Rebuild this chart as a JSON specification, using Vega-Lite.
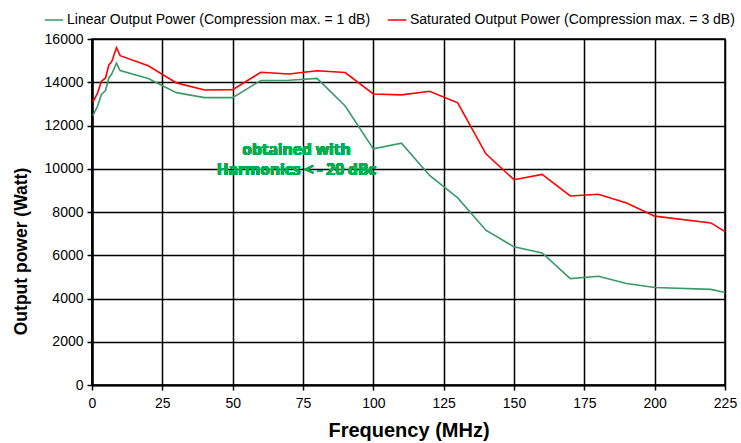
{
  "$schema": "https://vega.github.io/schema/vega-lite/v6.json",
  "autosize": "none",
  "width": 633,
  "height": 346,
  "padding": {"left": 92, "top": 39, "right": 16, "bottom": 58},
  "background": "white",
  "config": {
    "font": "Liberation Sans",
    "view": {"stroke": "#000000", "strokeWidth": 1.5}
  },
  "data": {
    "values": [
      {"series": "Linear Output Power (Compression max. =  1 dB)", "freq": 0.3, "power": 12450},
      {"series": "Linear Output Power (Compression max. =  1 dB)", "freq": 2, "power": 12900},
      {"series": "Linear Output Power (Compression max. =  1 dB)", "freq": 3.3, "power": 13420},
      {"series": "Linear Output Power (Compression max. =  1 dB)", "freq": 4.8, "power": 13620},
      {"series": "Linear Output Power (Compression max. =  1 dB)", "freq": 6, "power": 14200},
      {"series": "Linear Output Power (Compression max. =  1 dB)", "freq": 7, "power": 14380},
      {"series": "Linear Output Power (Compression max. =  1 dB)", "freq": 8.7, "power": 14880},
      {"series": "Linear Output Power (Compression max. =  1 dB)", "freq": 10, "power": 14540},
      {"series": "Linear Output Power (Compression max. =  1 dB)", "freq": 20, "power": 14170},
      {"series": "Linear Output Power (Compression max. =  1 dB)", "freq": 30, "power": 13520},
      {"series": "Linear Output Power (Compression max. =  1 dB)", "freq": 40, "power": 13290},
      {"series": "Linear Output Power (Compression max. =  1 dB)", "freq": 50, "power": 13290},
      {"series": "Linear Output Power (Compression max. =  1 dB)", "freq": 60, "power": 14080},
      {"series": "Linear Output Power (Compression max. =  1 dB)", "freq": 70, "power": 14090},
      {"series": "Linear Output Power (Compression max. =  1 dB)", "freq": 80, "power": 14180},
      {"series": "Linear Output Power (Compression max. =  1 dB)", "freq": 90, "power": 12900},
      {"series": "Linear Output Power (Compression max. =  1 dB)", "freq": 100, "power": 10920},
      {"series": "Linear Output Power (Compression max. =  1 dB)", "freq": 110, "power": 11180},
      {"series": "Linear Output Power (Compression max. =  1 dB)", "freq": 120, "power": 9690},
      {"series": "Linear Output Power (Compression max. =  1 dB)", "freq": 130, "power": 8650},
      {"series": "Linear Output Power (Compression max. =  1 dB)", "freq": 140, "power": 7160},
      {"series": "Linear Output Power (Compression max. =  1 dB)", "freq": 150, "power": 6390},
      {"series": "Linear Output Power (Compression max. =  1 dB)", "freq": 160, "power": 6110},
      {"series": "Linear Output Power (Compression max. =  1 dB)", "freq": 170, "power": 4920},
      {"series": "Linear Output Power (Compression max. =  1 dB)", "freq": 180, "power": 5030},
      {"series": "Linear Output Power (Compression max. =  1 dB)", "freq": 190, "power": 4690},
      {"series": "Linear Output Power (Compression max. =  1 dB)", "freq": 200, "power": 4510},
      {"series": "Linear Output Power (Compression max. =  1 dB)", "freq": 220, "power": 4420},
      {"series": "Linear Output Power (Compression max. =  1 dB)", "freq": 225, "power": 4280},
      {"series": "Saturated Output Power (Compression max. =  3 dB)", "freq": 0.3, "power": 13080},
      {"series": "Saturated Output Power (Compression max. =  3 dB)", "freq": 2, "power": 13510},
      {"series": "Saturated Output Power (Compression max. =  3 dB)", "freq": 3.3, "power": 14040},
      {"series": "Saturated Output Power (Compression max. =  3 dB)", "freq": 4.8, "power": 14200},
      {"series": "Saturated Output Power (Compression max. =  3 dB)", "freq": 6, "power": 14800},
      {"series": "Saturated Output Power (Compression max. =  3 dB)", "freq": 7, "power": 14950},
      {"series": "Saturated Output Power (Compression max. =  3 dB)", "freq": 8.7, "power": 15600},
      {"series": "Saturated Output Power (Compression max. =  3 dB)", "freq": 10, "power": 15230},
      {"series": "Saturated Output Power (Compression max. =  3 dB)", "freq": 20, "power": 14760},
      {"series": "Saturated Output Power (Compression max. =  3 dB)", "freq": 30, "power": 13970},
      {"series": "Saturated Output Power (Compression max. =  3 dB)", "freq": 40, "power": 13640},
      {"series": "Saturated Output Power (Compression max. =  3 dB)", "freq": 50, "power": 13660},
      {"series": "Saturated Output Power (Compression max. =  3 dB)", "freq": 60, "power": 14460},
      {"series": "Saturated Output Power (Compression max. =  3 dB)", "freq": 70, "power": 14380},
      {"series": "Saturated Output Power (Compression max. =  3 dB)", "freq": 80, "power": 14530},
      {"series": "Saturated Output Power (Compression max. =  3 dB)", "freq": 90, "power": 14450},
      {"series": "Saturated Output Power (Compression max. =  3 dB)", "freq": 100, "power": 13460},
      {"series": "Saturated Output Power (Compression max. =  3 dB)", "freq": 110, "power": 13415},
      {"series": "Saturated Output Power (Compression max. =  3 dB)", "freq": 120, "power": 13585},
      {"series": "Saturated Output Power (Compression max. =  3 dB)", "freq": 130, "power": 13046},
      {"series": "Saturated Output Power (Compression max. =  3 dB)", "freq": 140, "power": 10690},
      {"series": "Saturated Output Power (Compression max. =  3 dB)", "freq": 150, "power": 9494},
      {"series": "Saturated Output Power (Compression max. =  3 dB)", "freq": 160, "power": 9740},
      {"series": "Saturated Output Power (Compression max. =  3 dB)", "freq": 170, "power": 8740},
      {"series": "Saturated Output Power (Compression max. =  3 dB)", "freq": 180, "power": 8820},
      {"series": "Saturated Output Power (Compression max. =  3 dB)", "freq": 190, "power": 8416},
      {"series": "Saturated Output Power (Compression max. =  3 dB)", "freq": 200, "power": 7810},
      {"series": "Saturated Output Power (Compression max. =  3 dB)", "freq": 220, "power": 7494},
      {"series": "Saturated Output Power (Compression max. =  3 dB)", "freq": 225, "power": 7090}
    ]
  },
  "layer": [
    {
      "mark": {"type": "line", "strokeWidth": 1.6, "clip": true},
      "encoding": {
        "x": {
          "field": "freq", "type": "quantitative",
          "scale": {"domain": [0, 225], "nice": false, "zero": false},
          "axis": {
            "values": [0, 25, 50, 75, 100, 125, 150, 175, 200, 225],
            "title": "Frequency (MHz)",
            "titleFont": "Liberation Sans", "titleFontSize": 20, "titleFontWeight": "bold", "titleColor": "#000000",
            "titlePadding": 10,
            "labelFontSize": 14, "labelColor": "#000000", "labelPadding": 6,
            "domainColor": "#000000", "domainWidth": 2,
            "tickColor": "#000000", "tickSize": 5, "tickWidth": 1.5,
            "gridColor": "#000000", "gridWidth": 1.5, "gridOpacity": 1,
            "labelFlush": false
          }
        },
        "y": {
          "field": "power", "type": "quantitative",
          "scale": {"domain": [0, 16000], "nice": false},
          "axis": {
            "values": [0, 2000, 4000, 6000, 8000, 10000, 12000, 14000, 16000],
            "format": "d",
            "title": "Output power (Watt)",
            "titleFont": "Liberation Sans", "titleFontSize": 17.5, "titleFontWeight": "bold", "titleColor": "#000000",
            "titleX": -62, "titleY": 212,
            "labelFontSize": 14, "labelColor": "#000000", "labelPadding": 4,
            "domainColor": "#000000", "domainWidth": 2.5,
            "tickColor": "#000000", "tickSize": 5, "tickWidth": 1.5,
            "gridColor": "#000000", "gridWidth": 1.5, "gridOpacity": 1
          }
        },
        "color": {
          "field": "series", "type": "nominal",
          "scale": {
            "domain": ["Linear Output Power (Compression max. =  1 dB)", "Saturated Output Power (Compression max. =  3 dB)"],
            "range": ["#3a9a6a", "#ff0000"]
          },
          "legend": {
            "orient": "none", "legendX": -48, "legendY": -29, "direction": "horizontal",
            "title": null, "symbolType": "stroke", "symbolSize": 340, "symbolStrokeWidth": 1.5,
            "labelFontSize": 14, "labelColor": "#000000", "columnPadding": 10, "labelOffset": 3, "labelLimit": 400
          }
        }
      }
    },
    {
      "mark": {"type": "text", "font": "Open Sans", "fontSize": 15.5, "fontWeight": "bold", "fill": "#00b050", "stroke": null, "align": "center", "baseline": "middle", "lineHeight": 20, "text": ["obtained with", "Harmonics < - 20 dBc"]},
      "encoding": {
        "x": {"datum": 72.7},
        "y": {"datum": 10850}
      }
    }
  ]
}
